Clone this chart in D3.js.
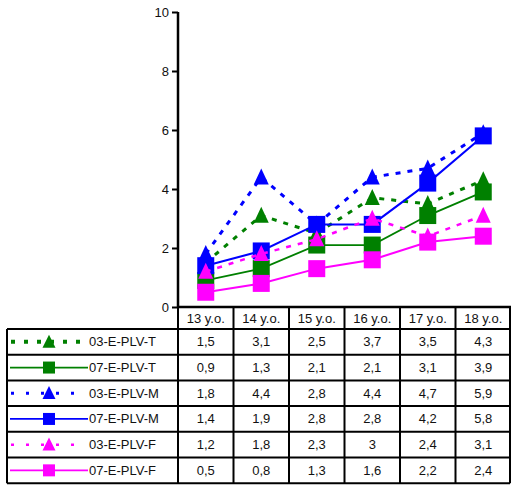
<!DOCTYPE html>
<html>
<head>
<meta charset="utf-8">
<script src="https://cdn.jsdelivr.net/npm/d3@7"></script>
<style>
  html, body { margin: 0; padding: 0; background: #fff; }
  svg { display: block; font-family: "Liberation Sans", Arial, Helvetica, sans-serif; }
</style>
</head>
<body>
<svg id="chart" width="511" height="485"></svg>
<script>
// Age groups (x categories)
const categories = ["13 y.o.", "14 y.o.", "15 y.o.", "16 y.o.", "17 y.o.", "18 y.o."];
// Series names
const seriesNames = ["03-E-PLV-T", "07-E-PLV-T", "03-E-PLV-M", "07-E-PLV-M", "03-E-PLV-F", "07-E-PLV-F"];
// Series values, one array per series
const s03T = [1.5, 3.1, 2.5, 3.7, 3.5, 4.3];
const s07T = [0.9, 1.3, 2.1, 2.1, 3.1, 3.9];
const s03M = [1.8, 4.4, 2.8, 4.4, 4.7, 5.9];
const s07M = [1.4, 1.9, 2.8, 2.8, 4.2, 5.8];
const s03F = [1.2, 1.8, 2.3, 3.0, 2.4, 3.1];
const s07F = [0.5, 0.8, 1.3, 1.6, 2.2, 2.4];
// Y axis ticks
const yTicks = [0, 2, 4, 6, 8, 10];

const seriesValues = [s03T, s07T, s03M, s07M, s03F, s07F];
const styles = [
  { color: "#008000", dash: "5,7", keyDash: "4,9", width: 3, keyWidth: 4, marker: "triangle" },
  { color: "#008000", dash: null, keyDash: null, width: 1.8, keyWidth: 1.8, marker: "square" },
  { color: "#0000ff", dash: "5,7", keyDash: "3,12", width: 3, keyWidth: 3, marker: "triangle" },
  { color: "#0000ff", dash: null, keyDash: null, width: 2, keyWidth: 1.8, marker: "square" },
  { color: "#ff00ff", dash: "5,7", keyDash: "3,12", width: 2.5, keyWidth: 2.5, marker: "triangle" },
  { color: "#ff00ff", dash: null, keyDash: null, width: 2, keyWidth: 1.8, marker: "square" }
];
const series = seriesNames.map((name, i) => ({ name, values: seriesValues[i], style: styles[i] }));

const svg = d3.select("#chart");
const plotLeft = 178, plotRight = 511, plotTop = 12, plotBottom = 307;

const x = d3.scaleBand().domain(categories).range([plotLeft, plotRight]).padding(0);
const y = d3.scaleLinear().domain([0, 10]).range([plotBottom, plotTop]);

// Y axis
const yAxis = d3.axisLeft(y).tickValues(yTicks).tickSize(6).tickFormat(d3.format("d"));
const gy = svg.append("g").attr("transform", `translate(${plotLeft},0)`).call(yAxis);
gy.select(".domain").attr("stroke", "#000").attr("stroke-width", 2.5).attr("d", `M0,${plotTop}V${plotBottom}`);
gy.selectAll(".tick line").attr("stroke", "#000").attr("stroke-width", 2);
gy.selectAll(".tick text").attr("font-size", 13).attr("fill", "#111").attr("x", -9)
  .attr("font-family", "Liberation Sans, Arial, sans-serif");

function marker(sel, type, w, h, color) {
  if (type === "square") {
    sel.append("rect").attr("x", -w / 2).attr("y", -w / 2)
      .attr("width", w).attr("height", w).attr("fill", color);
  } else {
    sel.append("path").attr("d", `M0,${-h * 0.55}L${w / 2},${h * 0.45}L${-w / 2},${h * 0.45}Z`)
      .attr("fill", color);
  }
}

const line = d3.line().x((d, i) => x(categories[i]) + x.bandwidth() / 2).y(d => y(d));

const plot = svg.append("g");
series.forEach(s => {
  const g = plot.append("g");
  g.append("path").datum(s.values).attr("d", line).attr("fill", "none")
    .attr("stroke", s.style.color).attr("stroke-width", s.style.width)
    .attr("stroke-dasharray", s.style.dash);
  s.values.forEach((v, i) => {
    const m = g.append("g").attr("transform", `translate(${x(categories[i]) + x.bandwidth() / 2},${y(v)})`);
    if (s.style.marker === "square") marker(m, "square", 17, 17, s.style.color);
    else marker(m, "triangle", 15, 16, s.style.color);
  });
});

// Data table beneath the chart
const headerTop = 307, headerBottom = 329, rowH = 25.7;
const tableLeft = 7, tableRight = 510;
const tbl = svg.append("g");
const fmt = v => String(v).replace(".", ",");

// Header labels
tbl.selectAll(".hdr").data(categories).enter().append("text")
  .attr("x", d => x(d) + x.bandwidth() / 2).attr("y", (headerTop + headerBottom) / 2 + 5)
  .attr("text-anchor", "middle").attr("font-size", 13).attr("fill", "#111").text(d => d);

// Rows
series.forEach((s, r) => {
  const y0 = headerBottom + r * rowH, cy = y0 + rowH / 2;
  s.values.forEach((v, i) => {
    tbl.append("text").attr("x", x(categories[i]) + x.bandwidth() / 2).attr("y", cy + 4.5)
      .attr("text-anchor", "middle").attr("font-size", 13).attr("fill", "#111").text(fmt(v));
  });
  // Legend key
  const lg = tbl.append("g");
  lg.append("line").attr("x1", s.style.keyDash ? 11 : 10).attr("x2", s.style.keyDash ? 80 : 88)
    .attr("y1", cy).attr("y2", cy)
    .attr("stroke", s.style.color).attr("stroke-width", s.style.keyWidth)
    .attr("stroke-dasharray", s.style.keyDash);
  const m = lg.append("g").attr("transform", `translate(49,${cy})`);
  if (s.style.marker === "square") marker(m, "square", 12, 12, s.style.color);
  else marker(m, "triangle", 13, 13, s.style.color);
  lg.append("text").attr("x", 89).attr("y", cy + 4.5).attr("font-size", 13).attr("fill", "#111")
    .text(s.name);
});

// Grid lines of the table
const gridStroke = 2;
const tableBottom = headerBottom + series.length * rowH;
tbl.append("line").attr("x1", tableLeft).attr("x2", tableRight).attr("y1", headerBottom).attr("y2", headerBottom)
  .attr("stroke", "#000").attr("stroke-width", gridStroke);
d3.range(1, series.length + 1).forEach(r => {
  const yy = headerBottom + r * rowH;
  tbl.append("line").attr("x1", tableLeft).attr("x2", tableRight).attr("y1", yy).attr("y2", yy)
    .attr("stroke", "#000").attr("stroke-width", gridStroke);
});
// x axis / header top
tbl.append("line").attr("x1", plotLeft - 1).attr("x2", plotRight).attr("y1", headerTop).attr("y2", headerTop)
  .attr("stroke", "#000").attr("stroke-width", 2.5);
// verticals
tbl.append("line").attr("x1", tableLeft).attr("x2", tableLeft).attr("y1", headerBottom).attr("y2", tableBottom)
  .attr("stroke", "#000").attr("stroke-width", gridStroke);
categories.forEach(c => {
  tbl.append("line").attr("x1", x(c)).attr("x2", x(c)).attr("y1", headerTop).attr("y2", tableBottom)
    .attr("stroke", "#000").attr("stroke-width", gridStroke);
});
tbl.append("line").attr("x1", tableRight).attr("x2", tableRight).attr("y1", headerTop).attr("y2", tableBottom)
  .attr("stroke", "#000").attr("stroke-width", gridStroke);
</script>
</body>
</html>
